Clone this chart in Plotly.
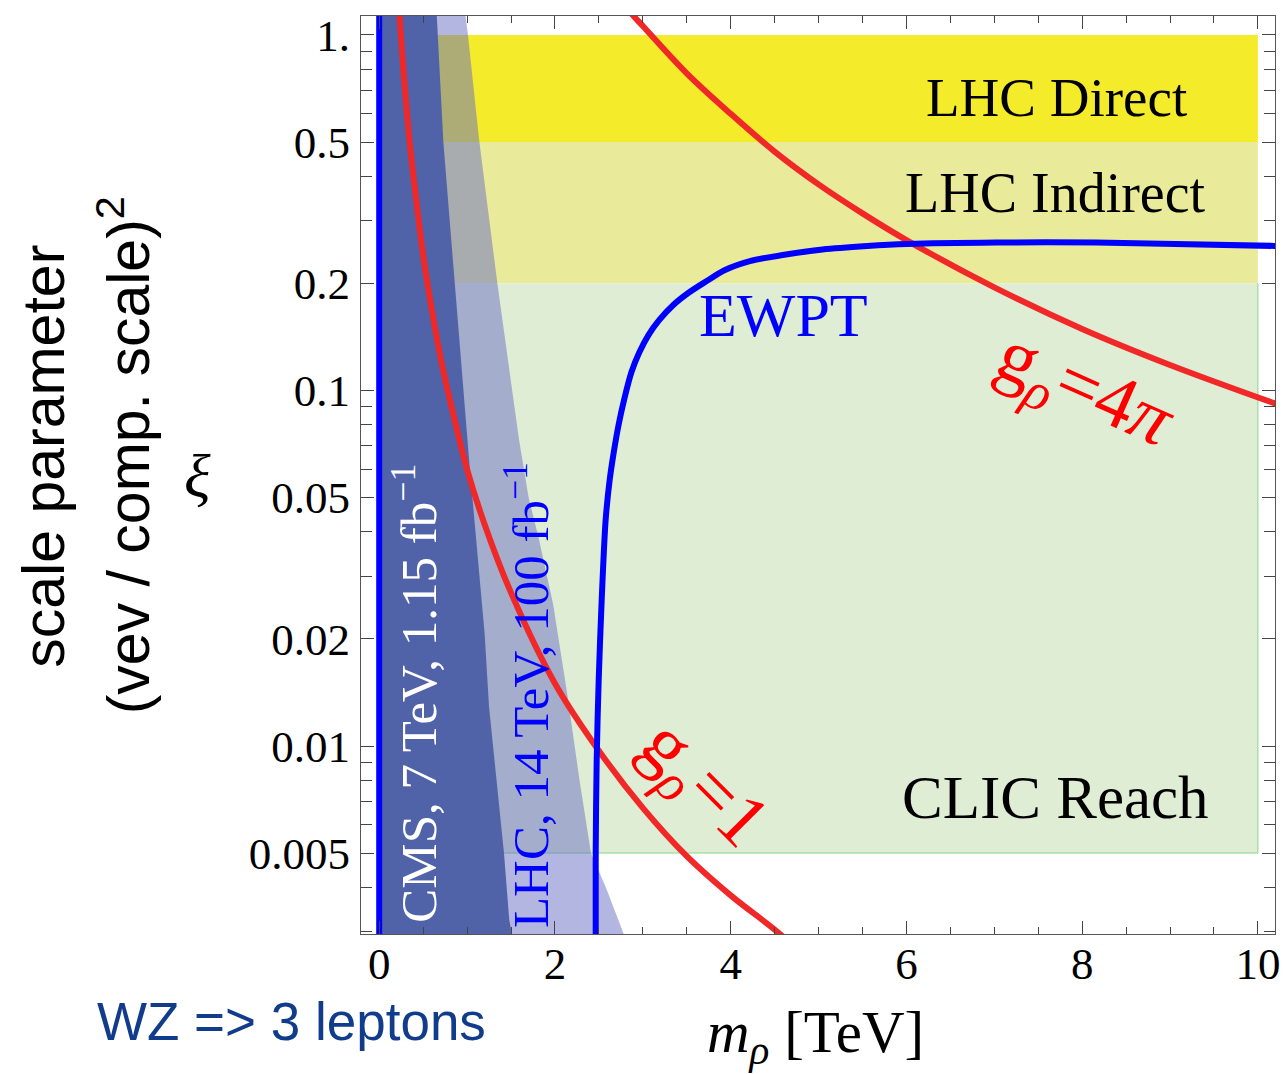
import plotly.graph_objects as go

# ---------------- data ----------------
# horizontal bands: (label, xi_low, xi_high), spanning m_rho = 0 .. 10 TeV
band_labels = ["LHC Direct", "LHC Indirect", "CLIC Reach"]
band_xi_low = [0.5, 0.2, 0.005]
band_xi_high = [1.0, 0.5, 0.2]
band_m_min = 0.0
band_m_max = 10.0

# LHC 14 TeV, 100 fb^-1 excluded region: right boundary (xi, m_rho)
lhc14_xi = [1.2, 1.0, 0.5, 0.2, 0.107, 0.073, 0.05, 0.038, 0.025, 0.014, 0.008, 0.005, 0.004, 0.0028]
lhc14_m = [0.97, 1.01, 1.14, 1.345, 1.50, 1.59, 1.70, 1.82, 1.98, 2.14, 2.28, 2.41, 2.58, 2.82]

# CMS 7 TeV, 1.15 fb^-1 excluded region: right boundary (xi, m_rho)
cms_xi = [1.2, 0.5, 0.2, 0.1, 0.0607, 0.0207, 0.0129, 0.005, 0.00324, 0.0028]
cms_m = [0.65, 0.73, 0.86, 0.96, 1.03, 1.20, 1.25, 1.42, 1.48, 1.53]

# g_rho = 1 contour
g1_m = [0.225, 0.25, 0.3, 0.35, 0.4, 0.5, 0.6, 0.7, 0.8, 1.0, 1.2, 1.5, 2.0, 2.5, 3.0, 3.5, 4.0, 4.6, 4.7]
g1_xi = [1.2, 0.97, 0.67, 0.49, 0.38, 0.24, 0.168, 0.123, 0.095, 0.060, 0.042, 0.027, 0.015, 0.0097,
         0.0067, 0.0049, 0.0038, 0.0029, 0.0027]

# g_rho = 4 pi contour
g4pi_m = [2.80, 2.87, 3.0, 3.5, 4.0, 4.5, 5.0, 5.5, 6.0, 7.0, 8.0, 9.0, 10.3]
g4pi_xi = [1.22, 1.15, 1.06, 0.78, 0.60, 0.47, 0.38, 0.315, 0.265, 0.195, 0.149, 0.118, 0.090]

# EWPT bound
ewpt_m = [2.464, 2.464, 2.475, 2.498, 2.532, 2.577, 2.623, 2.668, 2.724, 2.792, 2.871, 2.962, 3.064,
          3.188, 3.347, 3.517, 3.709, 3.935, 4.218, 4.592, 5.045, 5.554, 6.007, 7.025, 8.157, 9.063, 10.25]
ewpt_xi = [0.0028, 0.005, 0.00913, 0.01533, 0.02575, 0.04322, 0.05601, 0.0667, 0.07998, 0.09526, 0.1127,
           0.1283, 0.1432, 0.1579, 0.174, 0.188, 0.2019, 0.2183, 0.2313, 0.2404, 0.2492, 0.2549, 0.2583,
           0.2608, 0.2608, 0.2583, 0.2549]

# axis ticks
x_ticks = [0, 2, 4, 6, 8, 10]
y_ticks = [1.0, 0.5, 0.2, 0.1, 0.05, 0.02, 0.01, 0.005]
y_tick_text = ["1.", "0.5", "0.2", "0.1", "0.05", "0.02", "0.01", "0.005"]
y_minor = [0.003, 0.004, 0.006, 0.007, 0.008, 0.009, 0.03, 0.04, 0.06, 0.07, 0.08, 0.09,
           0.3, 0.4, 0.6, 0.7, 0.8, 0.9]

# ---------------- styling ----------------
W, H = 1288, 1074
PL, PR, PT, PB = 361, 1280, 16, 934          # plot-area frame in pixels
SERIF = "Liberation Serif"
SANS = "Liberation Sans"

band_fill = {"LHC Direct": "#F4EB2B", "LHC Indirect": "#EAEA9B", "CLIC Reach": "#E0EDD5"}
LHC14_FILL = "rgba(103,109,193,0.5)"
CMS_FILL = "#5163A8"
RED = "#F02828"
BLUE = "#0000FF"


def px(xp):
    return (xp - PL) / (PR - PL)


def py(yp):
    return (PB - yp) / (PB - PT)


fig = go.Figure()

# bands
for name, lo, hi in zip(band_labels, band_xi_low, band_xi_high):
    fig.add_trace(go.Scatter(
        x=[band_m_min, band_m_max, band_m_max, band_m_min, band_m_min],
        y=[lo, lo, hi, hi, lo], mode="lines", fill="toself",
        fillcolor=band_fill[name], line=dict(width=0), hoverinfo="skip"))

# edge of CLIC band
fig.add_trace(go.Scatter(
    x=[band_m_min, band_m_max, band_m_max], y=[band_xi_low[2], band_xi_low[2], band_xi_high[2]],
    mode="lines", line=dict(color="#86D886", width=1), hoverinfo="skip"))

# LHC 14 TeV region
fig.add_trace(go.Scatter(
    x=[0.0] + lhc14_m + [0.0], y=[lhc14_xi[0]] + lhc14_xi + [lhc14_xi[-1]],
    mode="lines", fill="toself", fillcolor=LHC14_FILL, line=dict(width=0), hoverinfo="skip"))

# CMS region
fig.add_trace(go.Scatter(
    x=[0.0] + cms_m + [0.0], y=[cms_xi[0]] + cms_xi + [cms_xi[-1]],
    mode="lines", fill="toself", fillcolor=CMS_FILL, line=dict(width=0), hoverinfo="skip"))

# coupling contours
fig.add_trace(go.Scatter(x=g1_m, y=g1_xi, mode="lines", line=dict(color=RED, width=6, shape="spline"),
                         hoverinfo="skip"))
fig.add_trace(go.Scatter(x=g4pi_m, y=g4pi_xi, mode="lines", line=dict(color=RED, width=6, shape="spline"),
                         hoverinfo="skip"))

# EWPT
fig.add_trace(go.Scatter(x=ewpt_m, y=ewpt_xi, mode="lines",
                         line=dict(color=BLUE, width=6, shape="spline", smoothing=0.8), hoverinfo="skip"))

# m_rho = 0 boundary
fig.add_trace(go.Scatter(x=[0, 0], y=[0.0028, 1.2], mode="lines", line=dict(color=BLUE, width=6),
                         hoverinfo="skip"))

axis_common = dict(showgrid=False, zeroline=False, showline=True, linecolor="#555", linewidth=1,
                   mirror="allticks", ticks="inside", tickcolor="#444", tickwidth=1,
                   tickfont=dict(family=SERIF, size=45, color="black"))

fig.update_xaxes(range=[(PL - 379.3) / 88.35, (PR - 379.3) / 88.35], tickvals=x_ticks,
                 ticktext=[str(v) for v in x_ticks], ticklen=13, ticklabelstandoff=-10,
                 minor=dict(ticks="inside", dtick=0.5, tick0=0, ticklen=7, tickcolor="#444"),
                 **axis_common)
fig.update_yaxes(type="log", range=[-2.5288, 0.0534], tickvals=y_ticks, ticktext=y_tick_text,
                 ticklen=13, ticklabelstandoff=1,
                 minor=dict(ticks="inside", tickvals=y_minor, ticklen=11, tickcolor="#444"),
                 **axis_common)

ann = []


def label(text, xp, yp, size, color="black", family=SERIF, angle=0):
    ann.append(dict(text=text, x=px(xp), y=py(yp), xref="paper", yref="paper",
                    xanchor="center", yanchor="middle", showarrow=False, textangle=angle,
                    font=dict(family=family, size=size, color=color)))


label("LHC Direct", 1060, 97, 55)
label("LHC Indirect", 1059, 193, 56)
label("CLIC Reach", 1059, 797, 61)
label("EWPT", 786, 315, 62, color=BLUE)
label("g<sub><i>ρ</i></sub>=4<i>π</i>", 1088, 392, 76, color="#FF0000", angle=24)
label("g<sub><i>ρ</i></sub>=1", 704, 786, 76, color="#FF0000", angle=45)
label("CMS, 7 TeV, 1.15 fb<sup>−1</sup>", 415, 693, 51, color="white", angle=-90)
label("LHC, 14 TeV, 100 fb<sup>−1</sup>", 528, 695, 51, color=BLUE, angle=-90)
label("scale parameter", 42, 456, 59, family=SANS, angle=-90)
label("(vev / comp. scale)<sup>2</sup>", 123, 455, 59, family=SANS, angle=-90)
label("<i>ξ</i>", 197, 476, 62)
label("WZ => 3 leptons", 291, 1021, 53, color="#113C8C", family=SANS)
label("<i>m</i><sub><i>ρ</i></sub> [TeV]", 818, 1036, 59)

fig.update_layout(width=W, height=H, margin=dict(l=PL, r=W - PR, t=PT, b=H - PB),
                  paper_bgcolor="white", plot_bgcolor="white", showlegend=False,
                  annotations=ann)

fig.write_html("out.html")
